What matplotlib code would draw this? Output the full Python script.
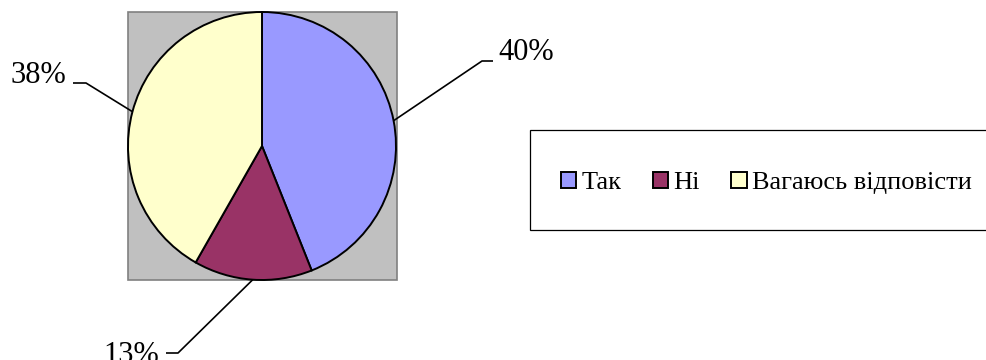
import numpy as np
import matplotlib
matplotlib.use("Agg")
import matplotlib.pyplot as plt
from matplotlib.patches import Rectangle

plt.rcParams['font.family'] = ['Liberation Serif', 'DejaVu Serif']

# survey answers, percent
labels = ['Так', 'Ні', 'Вагаюсь відповісти']
values = [40, 13, 38]
colors = ['#9999FF', '#993366', '#FFFFCC']

fig = plt.figure(figsize=(9.86, 3.6), dpi=100)
ax = fig.add_axes([0, 0, 1, 1])

cx, cy, r = 262, 214, 134

# grey plot area behind the pie
ax.add_patch(Rectangle((128, 80), 269, 268, facecolor='#C0C0C0',
                       edgecolor='#808080', lw=1.2, zorder=0))

wedges, _ = ax.pie(values, colors=colors, startangle=90, counterclock=False,
                   center=(cx, cy), radius=r, frame=True,
                   wedgeprops=dict(edgecolor='black', linewidth=1.4))
ax.set_xlim(0, 986)
ax.set_ylim(0, 360)
ax.set_aspect('equal')
ax.axis('off')

# leader lines: elbow point, line end, text position, alignment
label_spots = [
    ((482, 299), (493, 299), (498, 300), 'left'),
    ((178, 7), (166, 7), (159, -3), 'right'),
    ((86, 277), (73, 277), (66, 277), 'right'),
]
for w, v, (elbow, end, tpos, ha) in zip(wedges, values, label_spots):
    mid = np.deg2rad((w.theta1 + w.theta2) / 2)
    px, py = cx + r * np.cos(mid), cy + r * np.sin(mid)
    ax.plot([px, elbow[0], end[0]], [py, elbow[1], end[1]],
            color='black', lw=1.2, solid_capstyle='butt', clip_on=False)
    ax.text(tpos[0], tpos[1], f'{v}%', ha=ha, va='baseline', fontsize=22)

# legend box, open on the right
ax.add_patch(Rectangle((530, 130), 500, 100, facecolor='white',
                       edgecolor='black', lw=0.9, clip_on=True))
ax.legend(wedges, labels, ncol=3, frameon=False, fontsize=19,
          loc='center left', bbox_to_anchor=(561, 177),
          bbox_transform=ax.transData, borderpad=0, borderaxespad=0,
          handlelength=0.57, handleheight=0.57, handletextpad=0.2,
          columnspacing=1.2)

fig.savefig('out.png', dpi=100)
